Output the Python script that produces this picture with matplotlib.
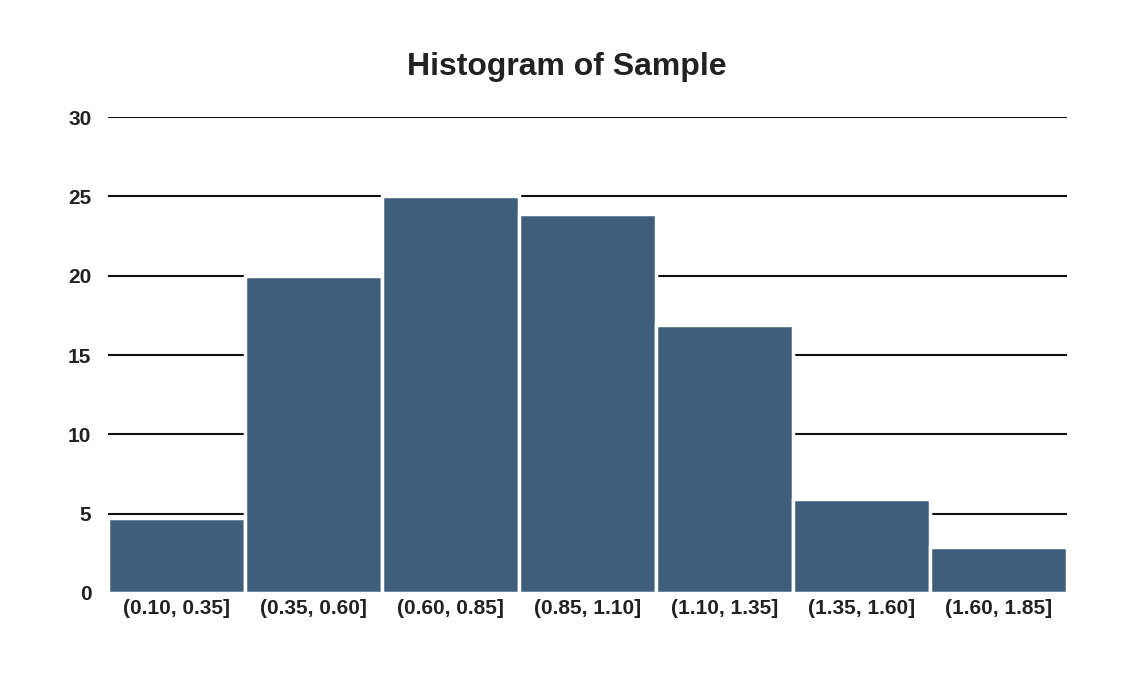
import matplotlib
matplotlib.use("Agg")
import matplotlib.pyplot as plt

categories = ["(0.10, 0.35]", "(0.35, 0.60]", "(0.60, 0.85]", "(0.85, 1.10]",
              "(1.10, 1.35]", "(1.35, 1.60]", "(1.60, 1.85]"]
counts = [4.7, 20, 25, 23.9, 16.9, 5.9, 2.9]
yticks = [0, 5, 10, 15, 20, 25, 30]

plt.rcParams['font.family'] = ['Liberation Sans', 'DejaVu Sans']
fig = plt.figure(figsize=(11.34, 6.75), dpi=100)
ax = fig.add_axes([0.0952, 0.1215, 0.846, 0.705])
x = range(len(categories))
ax.bar(x, counts, width=1.0, color="#3f5e7c", edgecolor="white", linewidth=2.5, zorder=3)
ax.set_xlim(-0.5, len(categories) - 0.5)
ax.set_ylim(0, 30)
ax.set_yticks(yticks)
ax.set_yticklabels([str(t) for t in yticks], fontsize=15, fontweight='bold', color="#222222")
ax.set_xticks(list(x))
ax.set_xticklabels(categories, fontsize=15, fontweight='bold', color="#222222")
ax.yaxis.grid(True, color="#111111", linewidth=1.5, zorder=0)
ax.tick_params(length=0)
ax.tick_params(axis='y', pad=12)
ax.tick_params(axis='x', pad=4)
for s in ax.spines.values():
    s.set_visible(False)
fig.text(0.5, 0.9, "Histogram of Sample", ha='center', va='center', fontsize=23,
         fontweight='bold', color="#222222")
fig.savefig("out.png", dpi=100, facecolor="white")
